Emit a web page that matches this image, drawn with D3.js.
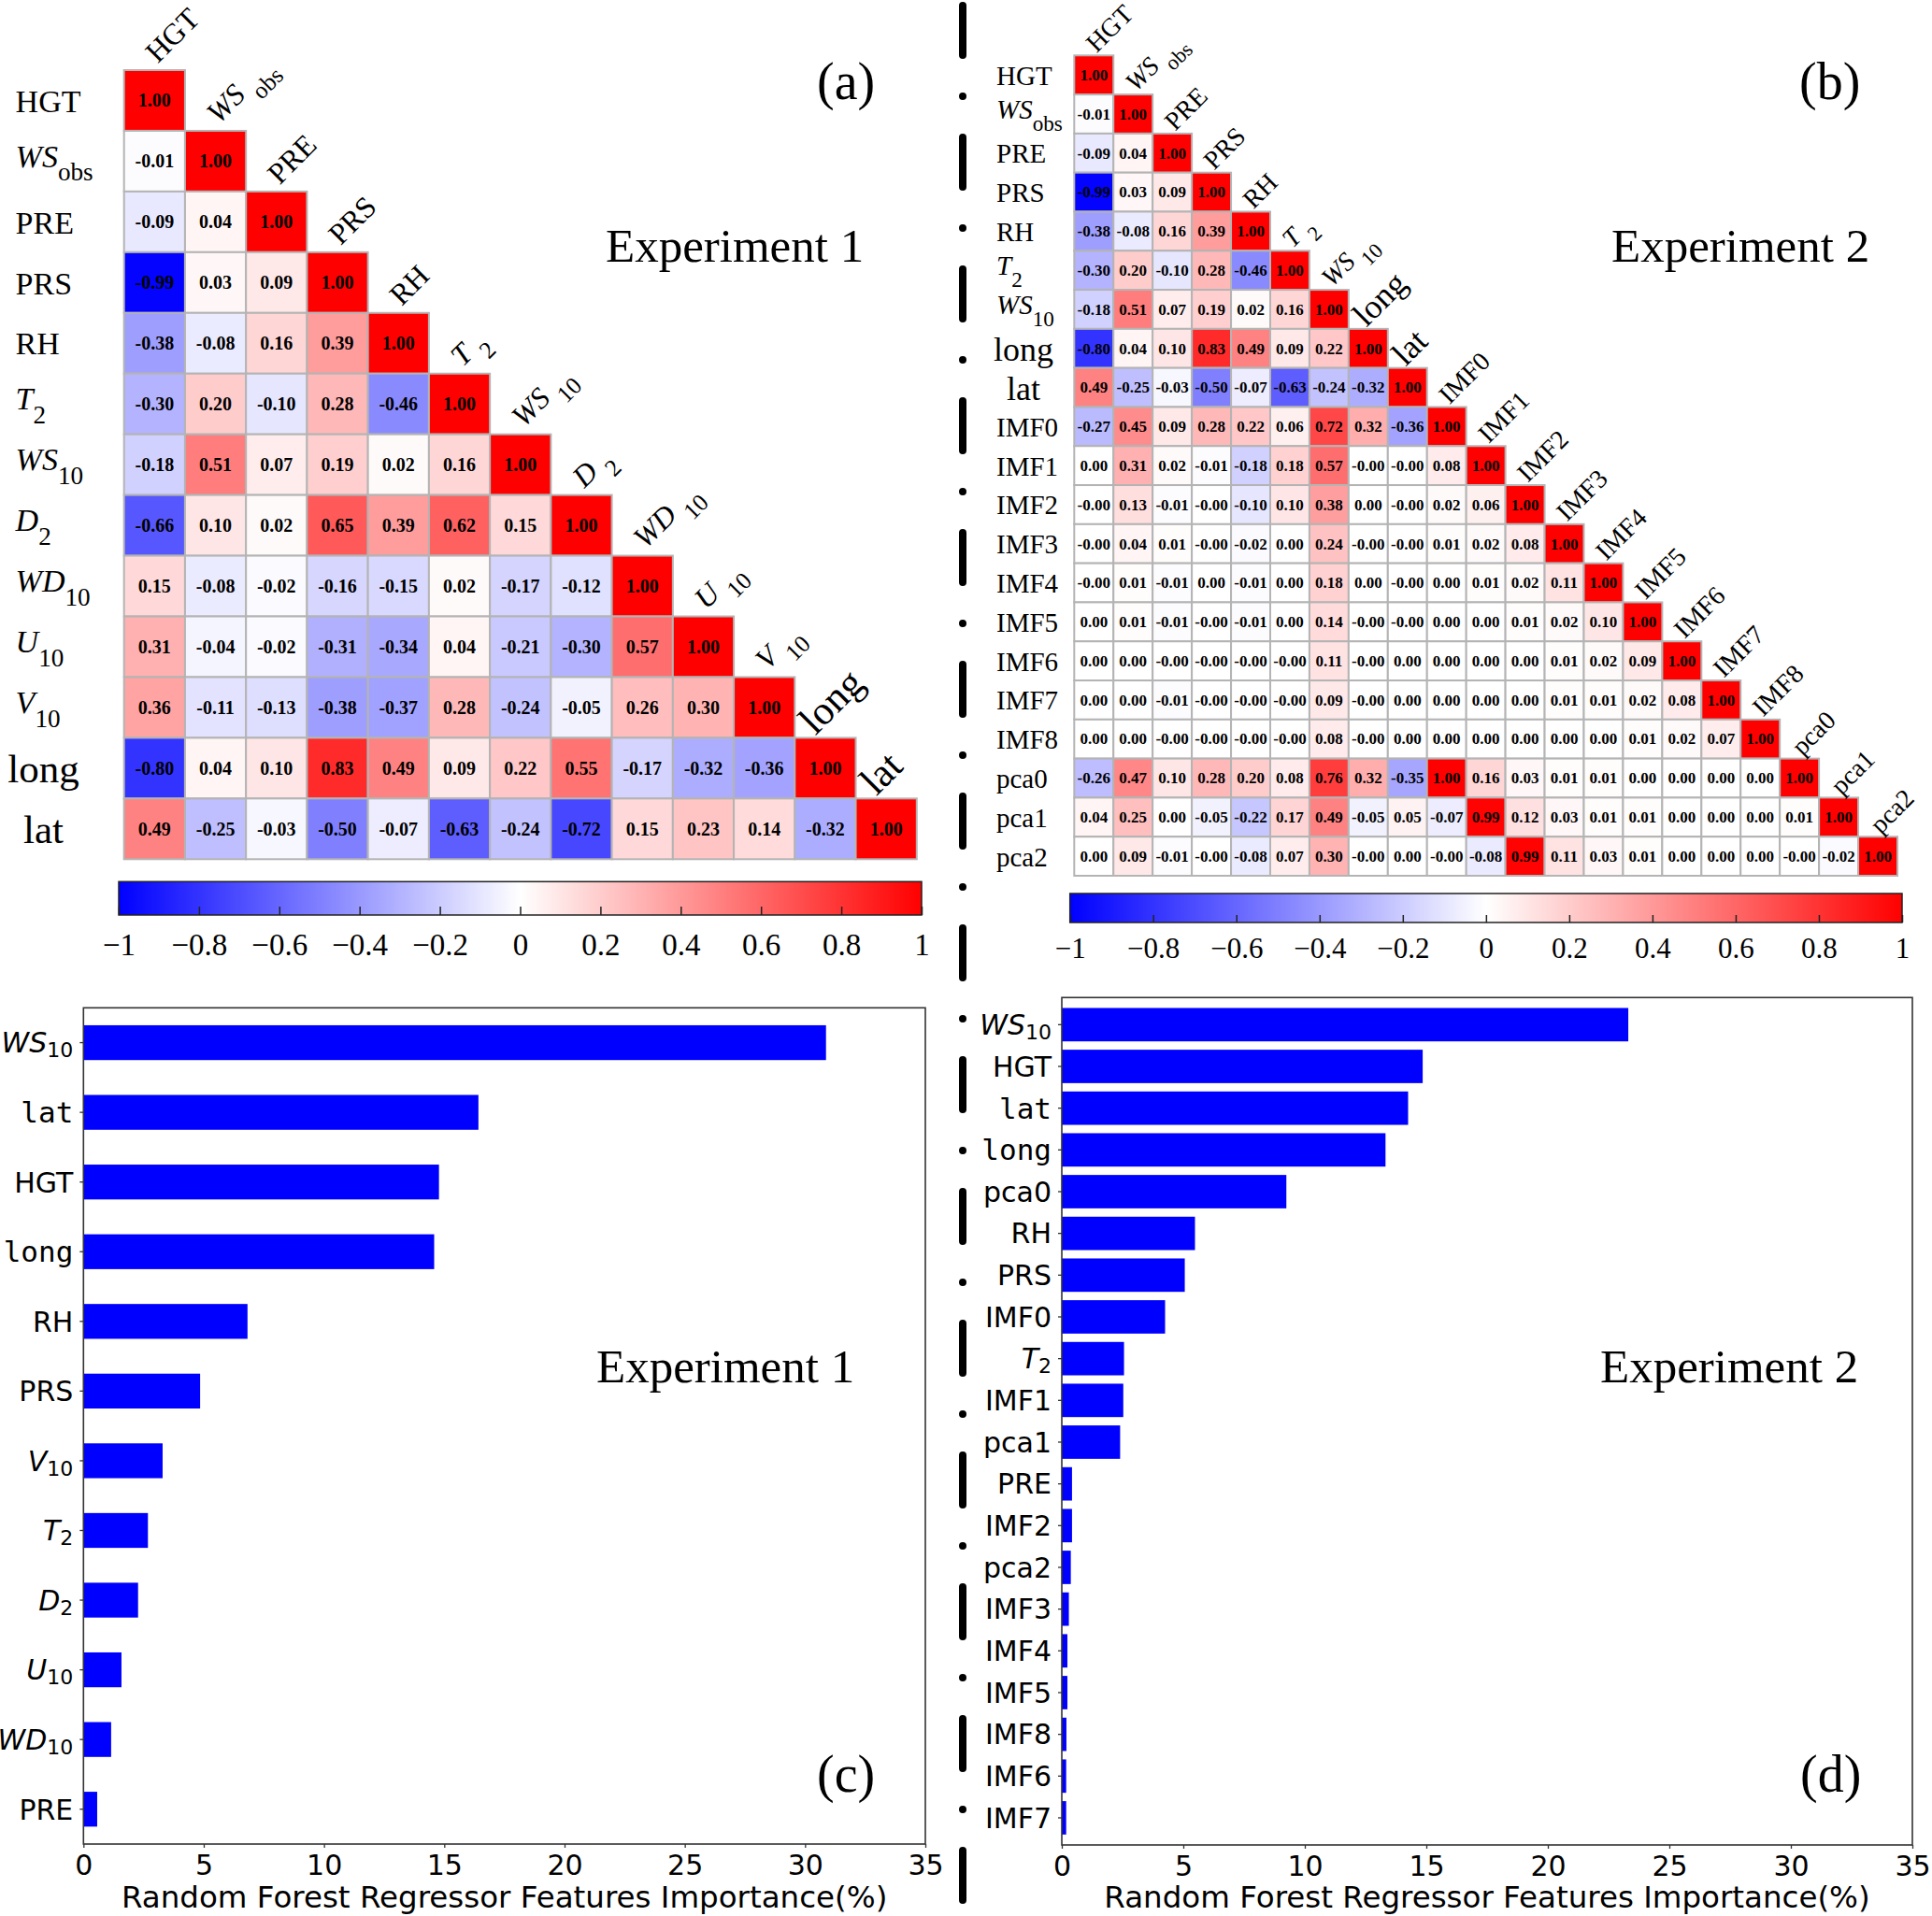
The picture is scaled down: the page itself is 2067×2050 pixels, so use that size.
<!DOCTYPE html>
<html>
<head>
<meta charset="utf-8">
<script src="https://cdn.jsdelivr.net/npm/d3@7"></script>
<style>
  body { margin: 0; background: #fff; }
  svg { display: block; }
</style>
</head>
<body>
<svg id="fig" width="2067" height="2050"></svg>
<script>
// ---- data ----
const namesA = ["HGT", "WSobs", "PRE", "PRS", "RH", "T2", "WS10", "D2", "WD10", "U10", "V10", "long", "lat"];
const corrA = [
    [1.00],
    [-0.01, 1.00],
    [-0.09, 0.04, 1.00],
    [-0.99, 0.03, 0.09, 1.00],
    [-0.38, -0.08, 0.16, 0.39, 1.00],
    [-0.30, 0.20, -0.10, 0.28, -0.46, 1.00],
    [-0.18, 0.51, 0.07, 0.19, 0.02, 0.16, 1.00],
    [-0.66, 0.10, 0.02, 0.65, 0.39, 0.62, 0.15, 1.00],
    [0.15, -0.08, -0.02, -0.16, -0.15, 0.02, -0.17, -0.12, 1.00],
    [0.31, -0.04, -0.02, -0.31, -0.34, 0.04, -0.21, -0.30, 0.57, 1.00],
    [0.36, -0.11, -0.13, -0.38, -0.37, 0.28, -0.24, -0.05, 0.26, 0.30, 1.00],
    [-0.80, 0.04, 0.10, 0.83, 0.49, 0.09, 0.22, 0.55, -0.17, -0.32, -0.36, 1.00],
    [0.49, -0.25, -0.03, -0.50, -0.07, -0.63, -0.24, -0.72, 0.15, 0.23, 0.14, -0.32, 1.00]
];

const namesB = ["HGT", "WSobs", "PRE", "PRS", "RH", "T2", "WS10", "long", "lat",
    "IMF0", "IMF1", "IMF2", "IMF3", "IMF4", "IMF5", "IMF6", "IMF7", "IMF8", "pca0", "pca1", "pca2"];
const corrB = [
    [1.00],
    [-0.01, 1.00],
    [-0.09, 0.04, 1.00],
    [-0.99, 0.03, 0.09, 1.00],
    [-0.38, -0.08, 0.16, 0.39, 1.00],
    [-0.30, 0.20, -0.10, 0.28, -0.46, 1.00],
    [-0.18, 0.51, 0.07, 0.19, 0.02, 0.16, 1.00],
    [-0.80, 0.04, 0.10, 0.83, 0.49, 0.09, 0.22, 1.00],
    [0.49, -0.25, -0.03, -0.50, -0.07, -0.63, -0.24, -0.32, 1.00],
    [-0.27, 0.45, 0.09, 0.28, 0.22, 0.06, 0.72, 0.32, -0.36, 1.00],
    [0.00, 0.31, 0.02, -0.01, -0.18, 0.18, 0.57, -0.00, -0.00, 0.08, 1.00],
    [-0.00, 0.13, -0.01, -0.00, -0.10, 0.10, 0.38, 0.00, -0.00, 0.02, 0.06, 1.00],
    [-0.00, 0.04, 0.01, -0.00, -0.02, 0.00, 0.24, -0.00, -0.00, 0.01, 0.02, 0.08, 1.00],
    [-0.00, 0.01, -0.01, 0.00, -0.01, 0.00, 0.18, 0.00, -0.00, 0.00, 0.01, 0.02, 0.11, 1.00],
    [0.00, 0.01, -0.01, -0.00, -0.01, 0.00, 0.14, -0.00, -0.00, 0.00, 0.00, 0.01, 0.02, 0.10, 1.00],
    [0.00, 0.00, -0.00, -0.00, -0.00, -0.00, 0.11, -0.00, 0.00, 0.00, 0.00, 0.00, 0.01, 0.02, 0.09, 1.00],
    [0.00, 0.00, -0.01, -0.00, -0.00, -0.00, 0.09, -0.00, 0.00, 0.00, 0.00, 0.00, 0.01, 0.01, 0.02, 0.08, 1.00],
    [0.00, 0.00, -0.00, -0.00, -0.00, -0.00, 0.08, -0.00, 0.00, 0.00, 0.00, 0.00, 0.00, 0.00, 0.01, 0.02, 0.07, 1.00],
    [-0.26, 0.47, 0.10, 0.28, 0.20, 0.08, 0.76, 0.32, -0.35, 1.00, 0.16, 0.03, 0.01, 0.01, 0.00, 0.00, 0.00, 0.00, 1.00],
    [0.04, 0.25, 0.00, -0.05, -0.22, 0.17, 0.49, -0.05, 0.05, -0.07, 0.99, 0.12, 0.03, 0.01, 0.01, 0.00, 0.00, 0.00, 0.01, 1.00],
    [0.00, 0.09, -0.01, -0.00, -0.08, 0.07, 0.30, -0.00, 0.00, -0.00, -0.08, 0.99, 0.11, 0.03, 0.01, 0.00, 0.00, 0.00, -0.00, -0.02, 1.00]
];

const rfNames1 = ["WS10", "lat", "HGT", "long", "RH", "PRS", "V10", "T2", "D2", "U10", "WD10", "PRE"];
const rfImp1 = [30.87, 16.42, 14.78, 14.58, 6.82, 4.85, 3.29, 2.68, 2.27, 1.58, 1.15, 0.57];

const rfNames2 = ["WS10", "HGT", "lat", "long", "pca0", "RH", "PRS", "IMF0", "T2", "IMF1",
    "pca1", "PRE", "IMF2", "pca2", "IMF3", "IMF4", "IMF5", "IMF8", "IMF6", "IMF7"];
const rfImp2 = [23.31, 14.85, 14.25, 13.32, 9.24, 5.48, 5.06, 4.25, 2.56, 2.53,
    2.40, 0.42, 0.42, 0.37, 0.29, 0.23, 0.23, 0.19, 0.18, 0.18];

const cbTicks = [-1, -0.8, -0.6, -0.4, -0.2, 0, 0.2, 0.4, 0.6, 0.8, 1];
const impTicks = [0, 5, 10, 15, 20, 25, 30, 35];

// labels written as italic symbol + subscript
const subs = {
    WSobs: ["WS", "obs"], T2: ["T", "2"], WS10: ["WS", "10"], D2: ["D", "2"],
    WD10: ["WD", "10"], U10: ["U", "10"], V10: ["V", "10"]
};
const bigNames = ["long", "lat"];

const SERIF = "'Liberation Serif', 'Times New Roman', serif";
const SANS = "'DejaVu Sans', sans-serif";

const svg = d3.select("#fig");
const color = d3.scaleLinear().domain([-1, 0, 1]).range(["#0000ff", "#ffffff", "#ff0000"]);

function fmt(v) {
    return (Object.is(v, -0) ? "-" : "") + v.toFixed(2);
}

// serif label with italic symbol and lowered subscript
function serifLabel(t, name, size, gap) {
    const s = subs[name];
    if (!s) { t.text(name); return; }
    t.append("tspan").attr("font-style", "italic").text(s[0]);
    t.append("tspan").attr("font-size", size * 0.8).attr("dx", gap)
        .attr("dy", size * 0.44).text(s[1]);
}

function drawMatrix(names, rows, p) {
    const g = svg.append("g");
    const x = d3.scaleBand().domain(names).range([p.x0, p.x1]);
    const y = d3.scaleBand().domain(names).range([p.y0, p.y1]);

    const cells = [];
    rows.forEach((r, i) => r.forEach((v, j) => cells.push({ row: names[i], col: names[j], v: v })));

    g.selectAll("rect.cell").data(cells).join("rect")
        .attr("class", "cell")
        .attr("x", d => x(d.col))
        .attr("y", d => y(d.row))
        .attr("width", x.bandwidth())
        .attr("height", y.bandwidth())
        .attr("fill", d => color(d.v))
        .attr("stroke", "#b4b4b4")
        .attr("stroke-width", 2);

    g.selectAll("text.val").data(cells).join("text")
        .attr("class", "val")
        .attr("x", d => x(d.col) + x.bandwidth() / 2)
        .attr("y", d => y(d.row) + y.bandwidth() / 2)
        .attr("dy", "0.34em")
        .attr("text-anchor", "middle")
        .style("font-family", SERIF)
        .style("font-weight", "bold")
        .style("font-size", p.cellFont + "px")
        .text(d => fmt(d.v));

    // row labels on the left
    names.forEach(n => {
        const big = bigNames.includes(n);
        const size = big ? p.bigFont : p.rowFont;
        const t = g.append("text")
            .attr("x", big ? p.bigX : p.rowX)
            .attr("y", y(n) + y.bandwidth() / 2)
            .attr("dy", (subs[n] ? 0.18 : 0.36) * size)
            .attr("text-anchor", big ? "middle" : "start")
            .style("font-family", SERIF)
            .style("font-size", size + "px");
        serifLabel(t, n, size, 0);
    });

    // column labels, rotated above the diagonal
    names.forEach(n => {
        const big = bigNames.includes(n);
        const size = big ? p.bigFont : p.colFont;
        const tx = x(n) + (big ? p.bigColDx : p.colDx);
        const ty = y(n) + (big ? p.bigColDy : p.colDy);
        const t = g.append("text")
            .attr("transform", `translate(${tx},${ty}) rotate(-45)`)
            .style("font-family", SERIF)
            .style("font-size", size + "px");
        serifLabel(t, n, size, size * 0.25);
    });

    // colorbar
    const cb = p.cb;
    const gid = "grad" + p.id;
    const grad = svg.append("defs").append("linearGradient").attr("id", gid);
    grad.selectAll("stop").data(color.domain()).join("stop")
        .attr("offset", d => (d + 1) / 2)
        .attr("stop-color", d => color(d));
    g.append("rect")
        .attr("x", cb.x0).attr("y", cb.y0)
        .attr("width", cb.x1 - cb.x0).attr("height", cb.y1 - cb.y0)
        .attr("fill", `url(#${gid})`)
        .attr("stroke", "#222").attr("stroke-width", 1.5);
    const cbx = d3.scaleLinear().domain([-1, 1]).range([cb.x0, cb.x1]);
    const ax = g.append("g")
        .attr("transform", `translate(0,${cb.y1})`)
        .call(d3.axisBottom(cbx).tickValues(cbTicks).tickSizeInner(-cb.tick).tickSizeOuter(0)
            .tickPadding(cb.pad).tickFormat(d3.format("~g")));
    ax.select(".domain").remove();
    ax.selectAll(".tick line").attr("stroke", "#222").attr("stroke-width", 1.5);
    ax.selectAll(".tick text")
        .attr("fill", "#000")
        .style("font-family", SERIF)
        .style("font-size", cb.font + "px");

    g.append("text").attr("x", p.letterX).attr("y", p.letterY)
        .style("font-family", SERIF).style("font-size", "56px").text(p.letter);
    g.append("text").attr("x", p.expX).attr("y", p.expY)
        .style("font-family", SERIF).style("font-size", "51px").text(p.exp);
}

function drawBars(names, vals, p) {
    const g = svg.append("g");
    const x = d3.scaleLinear().domain([0, 35]).range([p.x0, p.x1]);
    const y = d3.scaleBand().domain(names).range([p.y0, p.y1])
        .paddingInner(p.padIn).paddingOuter(0.25);

    g.selectAll("rect.bar").data(names).join("rect")
        .attr("class", "bar")
        .attr("x", x(0))
        .attr("y", d => y(d))
        .attr("width", (d, i) => x(vals[i]) - x(0))
        .attr("height", y.bandwidth())
        .attr("fill", "#0000ff");

    const xa = g.append("g").attr("transform", `translate(0,${p.y1})`)
        .call(d3.axisBottom(x).tickValues(impTicks).tickSize(4).tickPadding(8).tickSizeOuter(0));
    const ya = g.append("g").attr("transform", `translate(${p.x0},0)`)
        .call(d3.axisLeft(y).tickSize(4).tickPadding(7).tickSizeOuter(0));
    [xa, ya].forEach(a => {
        a.select(".domain").remove();
        a.selectAll(".tick line").attr("stroke", "#333").attr("stroke-width", 1.3);
        a.selectAll(".tick text").attr("fill", "#000").style("font-family", SANS).style("font-size", "30px");
    });
    ya.selectAll(".tick text").attr("dy", "0.36em").each(function (d) {
        const t = d3.select(this);
        const s = subs[d];
        if (s) {
            t.text(null);
            t.append("tspan").attr("font-style", "italic").text(s[0]);
            t.append("tspan").attr("font-size", 22).attr("dy", 5).text(s[1]);
        } else if (bigNames.includes(d)) {
            t.style("font-family", "'DejaVu Sans Mono', monospace").style("font-size", "31px");
        }
    });

    g.append("rect")
        .attr("x", p.x0).attr("y", p.y0)
        .attr("width", p.x1 - p.x0).attr("height", p.y1 - p.y0)
        .attr("fill", "none").attr("stroke", "#333").attr("stroke-width", 1.6);

    g.append("text")
        .attr("x", (p.x0 + p.x1) / 2).attr("y", 2041)
        .attr("text-anchor", "middle")
        .style("font-family", SANS).style("font-size", "32.5px")
        .text("Random Forest Regressor Features Importance(%)");
    g.append("text").attr("x", p.expX).attr("y", 1479)
        .style("font-family", SERIF).style("font-size", "51px").text(p.exp);
    g.append("text").attr("x", p.letterX).attr("y", 1917)
        .style("font-family", SERIF).style("font-size", "56px").text(p.letter);
}

drawMatrix(namesA, corrA, {
    id: "a", x0: 132.7, x1: 980.8, y0: 75, y1: 919.3,
    cellFont: 20, rowFont: 34, colFont: 32, bigFont: 43,
    rowX: 16.6, bigX: 46.5, colDx: 36, colDy: -6.5, bigColDx: 22, bigColDy: -2,
    cb: { x0: 127, x1: 986, y0: 943.3, y1: 979, tick: 9, pad: 19.5, font: 33 },
    letter: "(a)", letterX: 874, letterY: 106, exp: "Experiment 1", expX: 648, expY: 280
});

drawMatrix(namesB, corrB, {
    id: "b", x0: 1149.3, x1: 2030, y0: 59.3, y1: 937,
    cellFont: 17, rowFont: 29, colFont: 28, bigFont: 36,
    rowX: 1066, bigX: 1095, colDx: 24, colDy: -2, bigColDx: 19, bigColDy: -1,
    cb: { x0: 1144.7, x1: 2035, y0: 956, y1: 987, tick: 8, pad: 16, font: 31 },
    letter: "(b)", letterX: 1925, letterY: 106, exp: "Experiment 2", expX: 1724, expY: 280
});

drawBars(rfNames1, rfImp1, {
    x0: 89.3, x1: 990, y0: 1078.3, y1: 1973, padIn: 0.5,
    exp: "Experiment 1", expX: 638, letter: "(c)", letterX: 874
});

drawBars(rfNames2, rfImp2, {
    x0: 1136, x1: 2046, y0: 1067.3, y1: 1974, padIn: 0.2,
    exp: "Experiment 2", expX: 1712, letter: "(d)", letterX: 1926
});

// dash-dot divider between the left and right halves
svg.append("line")
    .attr("x1", 1030).attr("x2", 1030)
    .attr("y1", 6).attr("y2", 2050)
    .attr("stroke", "#000")
    .attr("stroke-width", 8)
    .attr("stroke-linecap", "round")
    .attr("stroke-dasharray", "53 44 0 44");
</script>
</body>
</html>
